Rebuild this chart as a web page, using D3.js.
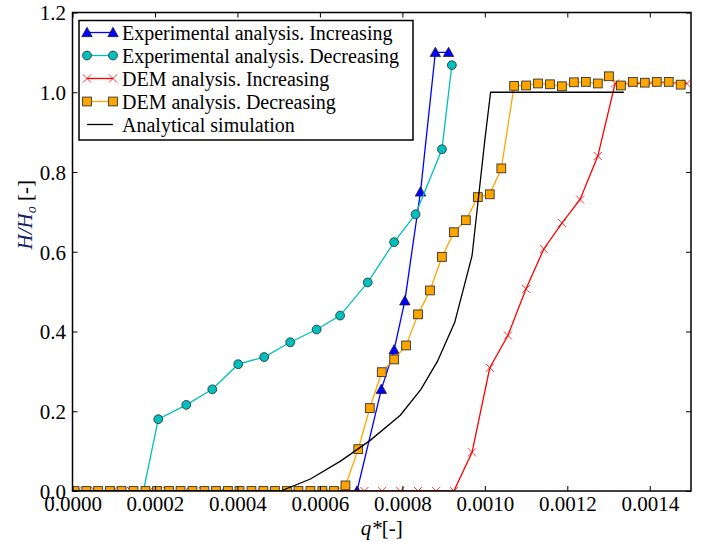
<!DOCTYPE html>
<html><head><meta charset="utf-8">
<script src="https://cdn.jsdelivr.net/npm/d3@7"></script>
<style>body{margin:0;background:#fff}svg{display:block}svg text{font-family:"Liberation Serif","Times New Roman",serif !important}</style>
</head><body>
<svg id="c" width="701" height="542"></svg>
<script>
// ---- data ----
const expIncQ = [0.00069, 0.000749, 0.00078, 0.000806, 0.000844, 0.00088, 0.000912];
const expIncH = [0, 0.255, 0.354, 0.477, 0.75, 1.1, 1.1];

const expDecQ = [0, 0.000172, 0.000208, 0.000276, 0.000339, 0.000402, 0.000465, 0.000528, 0.000592, 0.000649, 0.000716, 0.00078, 0.000832, 0.000896, 0.00092];
const expDecH = [0, 0, 0.18, 0.216, 0.255, 0.318, 0.336, 0.373, 0.405, 0.44, 0.523, 0.624, 0.694, 0.857, 1.068];

const demIncQ = [0.000012, 0.000055, 0.000099, 0.000142, 0.000186, 0.000229, 0.000273, 0.000316, 0.00036, 0.000403, 0.000447, 0.00049, 0.000534, 0.000577, 0.000621, 0.000664, 0.000708, 0.000751, 0.000795, 0.000838, 0.000882, 0.000925, 0.000969, 0.001012, 0.001056, 0.0011, 0.001143, 0.001187, 0.001231, 0.001274, 0.001316, 0.00136, 0.001403, 0.001447, 0.00149];
const demIncH = [0, 0, 0, 0, 0, 0, 0, 0, 0, 0, 0, 0, 0, 0, 0, 0, 0, 0, 0, 0, 0, 0, 0.097, 0.309, 0.39, 0.507, 0.607, 0.672, 0.731, 0.84, 1.022, 1.022, 1.024, 1.024, 1.022];

const demDecQ = [0.000005, 0.0000336, 0.0000622, 0.0000908, 0.000119, 0.000148, 0.000177, 0.000205, 0.000234, 0.000262, 0.000291, 0.00032, 0.000348, 0.000377, 0.000405, 0.000434, 0.000463, 0.000491, 0.00052, 0.000548, 0.000577, 0.000606, 0.000634, 0.000662, 0.000693, 0.000721, 0.00075, 0.00078, 0.000809, 0.000838, 0.000867, 0.000896, 0.000925, 0.000954, 0.000983, 0.001012, 0.00104, 0.001071, 0.0011, 0.001129, 0.001158, 0.001187, 0.001216, 0.001245, 0.001274, 0.001301, 0.00133, 0.001359, 0.001388, 0.001417, 0.001446, 0.001475];
const demDecH = [0, 0, 0, 0, 0, 0, 0, 0, 0, 0, 0, 0, 0, 0, 0, 0, 0, 0, 0, 0, 0, 0, 0, 0.014, 0.105, 0.208, 0.298, 0.33, 0.365, 0.443, 0.503, 0.587, 0.649, 0.679, 0.737, 0.744, 0.809, 1.016, 1.017, 1.022, 1.02, 1.015, 1.025, 1.026, 1.022, 1.04, 1.017, 1.026, 1.024, 1.026, 1.026, 1.019];

const anaQ = [0, 0.000505, 0.000577, 0.00065, 0.000722, 0.000795, 0.000845, 0.000885, 0.000927, 0.000969, 0.001, 0.001014, 0.001337];
const anaH = [0, 0, 0.03, 0.075, 0.127, 0.19, 0.255, 0.325, 0.423, 0.59, 0.88, 1.0, 1.0];

const xTicks = [0, 0.0002, 0.0004, 0.0006, 0.0008, 0.0010, 0.0012, 0.0014];
const yTicks = [0, 0.2, 0.4, 0.6, 0.8, 1.0, 1.2];
const legendLabels = ["Experimental analysis. Increasing", "Experimental analysis. Decreasing", "DEM analysis. Increasing", "DEM analysis. Decreasing", "Analytical simulation"];

// ---- layout ----
const L = 72.5, R = 691, T = 12.5, B = 491;
const x = d3.scaleLinear().domain([0, 0.0015]).range([L, R]);
const y = d3.scaleLinear().domain([0, 1.2]).range([B, T]);
const svg = d3.select("#c");

svg.append("defs").append("clipPath").attr("id", "clip")
  .append("rect").attr("x", L).attr("y", T).attr("width", R - L).attr("height", B - T);

const zip = (qs, hs) => qs.map((q, i) => [q, hs[i]]);
const series = [
  {name: legendLabels[0], data: zip(expIncQ, expIncH), color: "#0000ff", marker: "tri", markFrom: 0},
  {name: legendLabels[1], data: zip(expDecQ, expDecH), color: "#00bfbf", marker: "circ", markFrom: 2},
  {name: legendLabels[2], data: zip(demIncQ, demIncH), color: "#ff0000", marker: "x", markFrom: 0},
  {name: legendLabels[3], data: zip(demDecQ, demDecH), color: "#ffa500", marker: "sq", markFrom: 0},
  {name: legendLabels[4], data: zip(anaQ, anaH), color: "#000000", marker: null, markFrom: 0}
];

function drawMarker(g, type, color, cx, cy) {
  if (type === "tri") {
    const s = 5.2;
    g.append("path").attr("d", `M${cx},${cy - s}L${cx + s},${cy + s * 0.8}L${cx - s},${cy + s * 0.8}Z`)
      .attr("fill", color).attr("stroke", "#222").attr("stroke-width", 0.8);
  } else if (type === "circ") {
    g.append("circle").attr("cx", cx).attr("cy", cy).attr("r", 4.4)
      .attr("fill", color).attr("stroke", "#2a3a3a").attr("stroke-width", 0.9);
  } else if (type === "sq") {
    g.append("rect").attr("x", cx - 4.4).attr("y", cy - 4.4).attr("width", 8.8).attr("height", 8.8)
      .attr("fill", color).attr("stroke", "#333").attr("stroke-width", 0.9);
  } else if (type === "x") {
    const s = 4;
    g.append("path").attr("d", `M${cx - s},${cy - s}L${cx + s},${cy + s}M${cx - s},${cy + s}L${cx + s},${cy - s}`)
      .attr("stroke", color).attr("stroke-width", 0.8).attr("fill", "none");
  }
}

const plot = svg.append("g").attr("clip-path", "url(#clip)");
const line = d3.line().x(d => x(d[0])).y(d => y(d[1]));
series.forEach(s => {
  const g = plot.append("g");
  g.append("path").attr("d", line(s.data)).attr("fill", "none")
    .attr("stroke", s.color).attr("stroke-width", 1.3);
  if (s.marker) s.data.slice(s.markFrom).forEach(d => drawMarker(g, s.marker, s.color, x(d[0]), y(d[1])));
});

// ---- axes ----
const tickLen = 5;
const fmtX = d3.format(".4f"), fmtY = d3.format(".1f");
const axB = svg.append("g").attr("transform", `translate(0,${B})`)
  .call(d3.axisBottom(x).tickValues(xTicks).tickFormat(fmtX).tickSizeInner(-tickLen).tickSizeOuter(0).tickPadding(5));
const axT = svg.append("g").attr("transform", `translate(0,${T})`)
  .call(d3.axisTop(x).tickValues(xTicks).tickFormat("").tickSizeInner(-tickLen).tickSizeOuter(0));
const axL = svg.append("g").attr("transform", `translate(${L},0)`)
  .call(d3.axisLeft(y).tickValues(yTicks).tickFormat(fmtY).tickSizeInner(-tickLen).tickSizeOuter(0).tickPadding(6.5));
const axR = svg.append("g").attr("transform", `translate(${R},0)`)
  .call(d3.axisRight(y).tickValues(yTicks).tickFormat("").tickSizeInner(-tickLen).tickSizeOuter(0));
[axB, axT, axL, axR].forEach(a => {
  a.attr("font-family", null);
  a.select(".domain").remove();
  a.selectAll(".tick line").attr("stroke", "#000").attr("stroke-width", 1);
  a.selectAll("text").attr("font-size", 21).attr("fill", "#000");
});
axB.selectAll("text").attr("dy", "0.71em");
axL.selectAll("text").attr("dy", "0.35em");

svg.append("rect").attr("x", L).attr("y", T).attr("width", R - L).attr("height", B - T)
  .attr("fill", "none").attr("stroke", "#000").attr("stroke-width", 1.5);

// axis titles
const xt = svg.append("text").attr("x", (L + R) / 2).attr("y", 535).attr("text-anchor", "middle").attr("font-size", 21);
xt.append("tspan").attr("font-style", "italic").text("q*");
xt.append("tspan").text("[-]");

const yt = svg.append("text").attr("transform", `translate(32,${(T + B) / 2 - 37}) rotate(-90)`)
  .attr("text-anchor", "middle").attr("font-size", 21);
yt.append("tspan").attr("font-style", "italic").attr("fill", "#0d2266").text("H/H");
yt.append("tspan").attr("font-style", "italic").attr("fill", "#0d2266").attr("font-size", 14).attr("dy", 4).text("o");
yt.append("tspan").attr("dy", -4).attr("fill", "#000").text(" [-]");

// ---- legend ----
const lg = svg.append("g");
lg.append("rect").attr("x", 79).attr("y", 20.5).attr("width", 334).attr("height", 119.5)
  .attr("fill", "#fff").attr("stroke", "#000").attr("stroke-width", 1.5);
series.forEach((s, i) => {
  const cy = 32.5 + i * 23;
  lg.append("line").attr("x1", 87).attr("x2", 113).attr("y1", cy).attr("y2", cy)
    .attr("stroke", s.color).attr("stroke-width", 1.3);
  if (s.marker) { drawMarker(lg, s.marker, s.color, 87, cy); drawMarker(lg, s.marker, s.color, 113, cy); }
  lg.append("text").attr("x", 122).attr("y", cy).attr("dy", "0.35em").attr("font-size", 20).text(s.name);
});
</script>
</body></html>
